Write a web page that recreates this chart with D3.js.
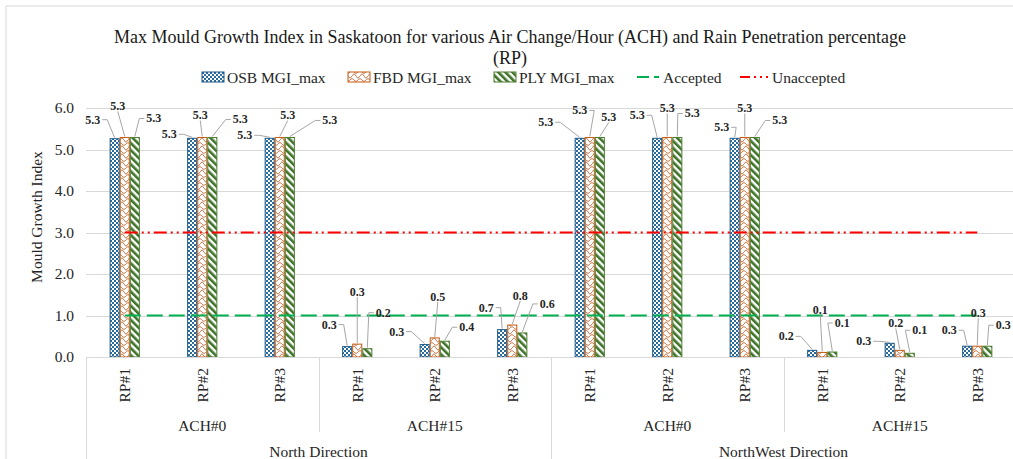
<!DOCTYPE html>
<html>
<head>
<meta charset="utf-8">
<script src="https://cdn.jsdelivr.net/npm/d3@7"></script>
<style>
  html, body { margin: 0; padding: 0; background: #fff; }
  svg { display: block; font-family: "Liberation Serif", "Times New Roman", serif; }
</style>
</head>
<body>
<svg id="chart" width="1013" height="459"></svg>
<script>
// ---- data ----
const directions = ["North Direction", "NorthWest Direction"];
const achLevels = ["ACH#0", "ACH#15"];
const rpLevels = ["RP#1", "RP#2", "RP#3"];
const seriesNames = ["OSB MGI_max", "FBD MGI_max", "PLY MGI_max"];
// one value per RP case, ordered North ACH#0, North ACH#15, NorthWest ACH#0, NorthWest ACH#15
const osbValues = [5.26, 5.27, 5.27, 0.25, 0.30, 0.66, 5.27, 5.27, 5.27, 0.16, 0.33, 0.26];
const fbdValues = [5.29, 5.29, 5.29, 0.31, 0.46, 0.77, 5.29, 5.29, 5.29, 0.11, 0.16, 0.26];
const plyValues = [5.29, 5.29, 5.29, 0.20, 0.38, 0.58, 5.29, 5.29, 5.29, 0.12, 0.09, 0.26];
const acceptedLevel = 1.0;
const unacceptedLevel = 3.0;
const yTicks = [0, 1, 2, 3, 4, 5, 6];
const titleLines = ["Max Mould Growth Index in Saskatoon for various Air Change/Hour (ACH) and Rain Penetration percentage", "(RP)"];
const yTitle = "Mould Growth Index";

// ---- label placement (offset of each value label from its bar top) ----
const labelOffsets = [
  [[-22, -19], [-7, -31], [19, -19]],
  [[-23, -4], [-2, -22], [28, -18]],
  [[-25, -3], [8, -22], [40, -17]],
  [[-18, -22], [0, -52], [16, -36]],
  [[-28, -13], [3, -41], [22, -14]],
  [[-16, -22], [8, -29], [25, -29]],
  [[-34, -16], [-10, -27], [9, -20]],
  [[-20, -23], [0, -29], [15, -24]],
  [[-13, -11], [0, -29], [25, -17]],
  [[-26, -14], [-2, -42], [10, -29]],
  [[-26, -2], [-4, -27], [10, -23]],
  [[-18, -16], [1, -33], [16, -21]]
];

// build the flat category list
const cases = [];
directions.forEach(dir => achLevels.forEach(ach => rpLevels.forEach(rp => cases.push({dir, ach, rp}))));
const seriesValues = [osbValues, fbdValues, plyValues];

const svg = d3.select("#chart");
const W = 1013, H = 459;
const plot = {left: 86, right: 1016, top: 108, bottom: 357};
const textColor = "#262626";

const defs = svg.append("defs");
// OSB: small checkerboard
const pOSB = defs.append("pattern").attr("id", "pat-osb").attr("patternUnits", "userSpaceOnUse")
  .attr("width", 4).attr("height", 4);
pOSB.append("rect").attr("width", 4).attr("height", 4).attr("fill", "#2a6b9e");
pOSB.append("rect").attr("x", 0).attr("y", 0).attr("width", 2).attr("height", 2).attr("fill", "#fff");
pOSB.append("rect").attr("x", 2).attr("y", 2).attr("width", 2).attr("height", 2).attr("fill", "#fff");
// FBD: zigzag weave
const pFBD = defs.append("pattern").attr("id", "pat-fbd").attr("patternUnits", "userSpaceOnUse")
  .attr("width", 8).attr("height", 8);
pFBD.append("rect").attr("width", 8).attr("height", 8).attr("fill", "#fff");
pFBD.append("path").attr("d", "M0,4 Q2,0 4,4 T8,4 M-2,8 Q0,5 2,8 M6,8 Q8,5 10,8 M2,0 Q4,3 6,0")
  .attr("fill", "none").attr("stroke", "#c67a4e").attr("stroke-width", 1);
// PLY: wide downward diagonal stripes
const pPLY = defs.append("pattern").attr("id", "pat-ply").attr("patternUnits", "userSpaceOnUse")
  .attr("width", 5).attr("height", 5).attr("patternTransform", "rotate(-45)");
pPLY.append("rect").attr("width", 5).attr("height", 5).attr("fill", "#fff");
pPLY.append("rect").attr("width", 2.6).attr("height", 5).attr("fill", "#3c7327");

const seriesFill = ["url(#pat-osb)", "url(#pat-fbd)", "url(#pat-ply)"];
const seriesStroke = ["#1f5a8a", "#c55a11", "#4e7d32"];

// ---- frame ----
svg.append("path").attr("d", `M6,${H} V6 H${W}`).attr("fill", "none").attr("stroke", "#d9d9d9").attr("stroke-width", 1);

// ---- scales ----
const x = d3.scaleBand().domain(d3.range(cases.length)).range([plot.left, plot.right]).padding(0);
const groupWidth = x.bandwidth() * 0.39;
const xs = d3.scaleBand().domain(d3.range(seriesNames.length)).range([-groupWidth / 2, groupWidth / 2]).padding(0);
const y = d3.scaleLinear().domain([0, 6]).range([plot.bottom, plot.top]);

// gridlines
svg.append("g").selectAll("line").data(yTicks).join("line")
  .attr("x1", plot.left).attr("x2", W)
  .attr("y1", d => Math.round(y(d)) + 0.5).attr("y2", d => Math.round(y(d)) + 0.5)
  .attr("stroke", "#d9d9d9").attr("stroke-width", 1);

// y axis labels
const yAxis = d3.axisLeft(y).tickValues(yTicks).tickFormat(d3.format(".1f")).tickSize(0).tickPadding(12);
const yg = svg.append("g").attr("transform", `translate(${plot.left},0)`).call(yAxis);
yg.select(".domain").remove();
yg.selectAll("text").attr("font-family", "Liberation Serif").attr("font-size", 15.5).attr("fill", textColor);

// y title
svg.append("text").attr("transform", `translate(38,217) rotate(-90)`)
  .attr("text-anchor", "middle").attr("dominant-baseline", "middle")
  .attr("font-size", 15.5).attr("fill", textColor).text(yTitle);

// ---- bars ----
const barData = [];
cases.forEach((c, i) => seriesValues.forEach((vals, s) => barData.push({i, s, v: vals[i], off: labelOffsets[i][s]})));

svg.append("g").selectAll("rect").data(barData).join("rect")
  .attr("x", d => x(d.i) + x.bandwidth() / 2 + xs(d.s) + 0.5)
  .attr("y", d => y(d.v))
  .attr("width", xs.bandwidth() - 1)
  .attr("height", d => y(0) - y(d.v))
  .attr("fill", d => seriesFill[d.s])
  .attr("stroke", d => seriesStroke[d.s]).attr("stroke-width", 1);

// ---- reference lines ----
const firstC = x(0) + x.bandwidth() / 2, lastC = x(cases.length - 1) + x.bandwidth() / 2;
svg.append("line").attr("x1", firstC).attr("x2", lastC)
  .attr("y1", y(unacceptedLevel)).attr("y2", y(unacceptedLevel))
  .attr("stroke", "#ff0000").attr("stroke-width", 1.8).attr("stroke-dasharray", "13,4,2,4,2,4");
svg.append("line").attr("x1", firstC).attr("x2", lastC)
  .attr("y1", y(acceptedLevel)).attr("y2", y(acceptedLevel))
  .attr("stroke", "#00b050").attr("stroke-width", 2.2).attr("stroke-dasharray", "16,6");

// ---- value labels with leader lines ----
const labelG = svg.append("g");
barData.forEach(d => {
  const bx = x(d.i) + x.bandwidth() / 2 + xs(d.s) + xs.bandwidth() / 2;
  const by = y(d.v);
  const lx = bx + d.off[0], ly = by + d.off[1];
  const t = labelG.append("text").attr("x", lx).attr("y", ly)
    .attr("text-anchor", "middle").attr("dominant-baseline", "central")
    .attr("font-size", 12).attr("font-weight", "bold").attr("fill", textColor)
    .text(d3.format(".1f")(d.v));
  const bb = t.node().getBBox();
  let pts;
  if (bx > bb.x + bb.width + 2) {
    const sx = bb.x + bb.width + 2;
    pts = [[sx, ly], [sx + 5, ly], [bx, by - 1]];
  } else if (bx < bb.x - 2) {
    const sx = bb.x - 2;
    pts = [[sx, ly], [sx - 5, ly], [bx, by - 1]];
  } else {
    pts = [[lx, ly + 5], [bx, by - 1]];
  }
  const a = pts[0], b = pts[pts.length - 1];
  if (Math.hypot(b[0] - a[0], b[1] - a[1]) > 9) {
    labelG.insert("path", "text").attr("d", d3.line()(pts))
      .attr("fill", "none").attr("stroke", "#a6a6a6").attr("stroke-width", 1);
  }
});

// ---- category axis (three levels) ----
const axisG = svg.append("g");
axisG.append("line").attr("x1", plot.left).attr("x2", W).attr("y1", plot.bottom + 0.5).attr("y2", plot.bottom + 0.5)
  .attr("stroke", "#d9d9d9");
// RP labels
axisG.selectAll("text.rp").data(cases).join("text").attr("class", "rp")
  .attr("transform", (d, i) => `translate(${x(i) + x.bandwidth() / 2},368) rotate(-90)`)
  .attr("text-anchor", "end").attr("dominant-baseline", "central")
  .attr("font-size", 15.5).attr("fill", textColor).text(d => d.rp);
// ACH labels and separators
const achGroups = [];
directions.forEach((dir, di) => achLevels.forEach((ach, ai) => achGroups.push({dir, ach, start: (di * achLevels.length + ai) * rpLevels.length})));
axisG.selectAll("text.ach").data(achGroups).join("text").attr("class", "ach")
  .attr("x", d => (x(d.start) + x(d.start + rpLevels.length - 1) + x.bandwidth()) / 2)
  .attr("y", 425).attr("text-anchor", "middle").attr("dominant-baseline", "central")
  .attr("font-size", 15.5).attr("fill", textColor).text(d => d.ach);
axisG.selectAll("line.achsep").data(achGroups.filter((d, i) => i % achLevels.length !== 0)).join("line")
  .attr("class", "achsep")
  .attr("x1", d => Math.round(x(d.start)) + 0.5).attr("x2", d => Math.round(x(d.start)) + 0.5)
  .attr("y1", plot.bottom).attr("y2", 432).attr("stroke", "#d9d9d9");
// direction labels and separators
const dirGroups = directions.map((dir, di) => ({dir, start: di * achLevels.length * rpLevels.length}));
const perDir = achLevels.length * rpLevels.length;
axisG.selectAll("text.dir").data(dirGroups).join("text").attr("class", "dir")
  .attr("x", d => (x(d.start) + x(d.start + perDir - 1) + x.bandwidth()) / 2)
  .attr("y", 451).attr("text-anchor", "middle").attr("dominant-baseline", "central")
  .attr("font-size", 15.5).attr("fill", textColor).text(d => d.dir);
axisG.selectAll("line.dirsep").data(dirGroups).join("line").attr("class", "dirsep")
  .attr("x1", d => Math.round(x(d.start)) + 0.5).attr("x2", d => Math.round(x(d.start)) + 0.5)
  .attr("y1", plot.bottom).attr("y2", H).attr("stroke", "#d9d9d9");

// ---- title ----
svg.append("g").selectAll("text").data(titleLines).join("text")
  .attr("x", 510).attr("y", (d, i) => 37 + i * 21)
  .attr("text-anchor", "middle").attr("dominant-baseline", "central")
  .attr("font-size", 18).attr("fill", "#1a1a1a").text(d => d);

// ---- legend ----
const legend = svg.append("g");
const legendY = 77;
const barKeyX = [202, 348, 494];
seriesNames.forEach((name, s) => {
  legend.append("rect").attr("x", barKeyX[s]).attr("y", legendY - 5).attr("width", 22).attr("height", 10)
    .attr("fill", seriesFill[s]).attr("stroke", seriesStroke[s]).attr("stroke-width", 1);
  legend.append("text").attr("x", barKeyX[s] + 25).attr("y", legendY).attr("dominant-baseline", "central")
    .attr("font-size", 15.5).attr("fill", textColor).text(name);
});
legend.append("line").attr("x1", 637).attr("x2", 659).attr("y1", legendY).attr("y2", legendY)
  .attr("stroke", "#00b050").attr("stroke-width", 2.2).attr("stroke-dasharray", "12,5");
legend.append("text").attr("x", 663).attr("y", legendY).attr("dominant-baseline", "central")
  .attr("font-size", 15.5).attr("fill", textColor).text("Accepted");
legend.append("line").attr("x1", 740).attr("x2", 768).attr("y1", legendY).attr("y2", legendY)
  .attr("stroke", "#ff0000").attr("stroke-width", 1.8).attr("stroke-dasharray", "10,4,2,4,2,4");
legend.append("text").attr("x", 772).attr("y", legendY).attr("dominant-baseline", "central")
  .attr("font-size", 15.5).attr("fill", textColor).text("Unaccepted");
</script>
</body>
</html>
